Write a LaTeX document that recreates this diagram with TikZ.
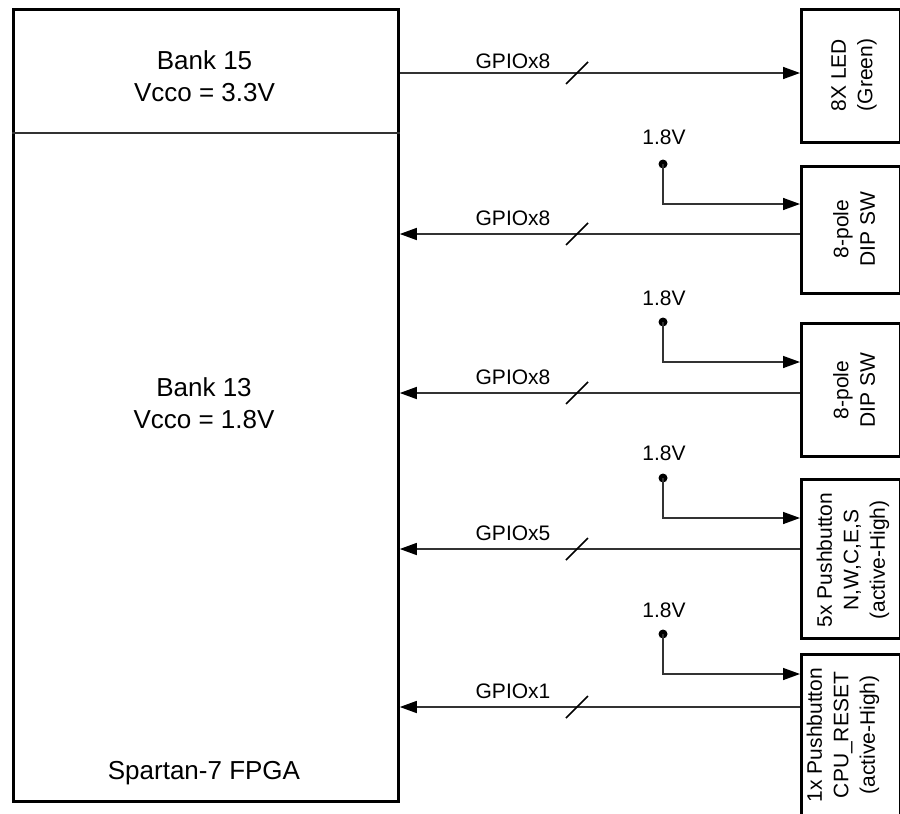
\documentclass[tikz,border=0pt]{standalone}
\usepackage{fontspec}
\setmainfont{Liberation Sans}
\usetikzlibrary{arrows.meta,calc}
\begin{document}
\begin{tikzpicture}[x=1pt,y=-1pt,
  box/.style={draw, line width=2.8pt, inner sep=0pt, anchor=north west},
  sig/.style={line width=1.5pt, draw=black!80, -{Triangle[length=17pt,width=12pt,fill=black,color=black]}},
  wire/.style={line width=1.5pt, draw=black!80},
  big/.style={font=\fontsize{26}{32}\selectfont, align=center, inner sep=0pt},
  lbl/.style={font=\fontsize{21}{26}\selectfont, inner sep=0pt},
  rot/.style={font=\fontsize{21}{26.5}\selectfont, rotate=90, align=center, inner sep=0pt},
  vdot/.style={circle, fill, inner sep=0pt, minimum size=9pt},
  slash/.style={line width=1.5pt}]
\useasboundingbox (0,0) rectangle (900,814);

% FPGA
\node[box, minimum width=385pt, minimum height=792pt] (fpga) at (12,8) {};
\coordinate (dv) at (0,133);
\draw[wire] (fpga.west |- dv) -- (fpga.east |- dv);
\node[big] (b15) at (204.5,76) {Bank 15\\Vcco = 3.3V};
\node[big] (b13) at (204,403) {Bank 13\\Vcco = 1.8V};
\node[big] (sp) at (204,773) {Spartan-7 FPGA};

% right boxes
\node[box, minimum width=99pt, minimum height=133pt] (led) at (800,8) {};
\node[box, minimum width=99pt, minimum height=127pt] (dip1) at (800,165) {};
\node[box, minimum width=99pt, minimum height=133pt] (dip2) at (800,322) {};
\node[box, minimum width=99pt, minimum height=159pt] (pb) at (800,478) {};
\node[box, minimum width=99pt, minimum height=165pt] (rst) at (800,653) {};

\node[rot] (tled) at (854,75) {8X LED\\(Green)};
\node[rot] (tdip1) at (854,229) {8-pole\\DIP SW};
\node[rot] (tdip2) at (854,390) {8-pole\\DIP SW};
\node[rot] (tpb) at (853,560) {5x Pushbutton\\N,W,C,E,S\\(active-High)};
\node[rot] (trst) at (843,735) {1x Pushbutton\\CPU\_RESET\\(active-High)};

% top LED output
\coordinate (g0) at (0,73);
\draw[sig] (fpga.east |- g0) -- (led.west |- g0);
\node[lbl] (l0) at (513,61.5) {GPIOx8};
\coordinate (s0) at (577,73);
\draw[slash] ($(s0)+(-11,11)$) -- ($(s0)+(11,-11)$);

% DIP 1
\node[lbl] (p1) at (664,137) {1.8V};
\node[vdot] (v1) at (663,164) {};
\coordinate (t1) at (0,204);
\draw[sig] (v1.center) |- (dip1.west |- t1);
\coordinate (g1) at (0,234);
\draw[sig] (dip1.west |- g1) -- (fpga.east |- g1);
\node[lbl] (l1) at (513,218) {GPIOx8};
\coordinate (s1) at (577,234);
\draw[slash] ($(s1)+(-11,11)$) -- ($(s1)+(11,-11)$);

% DIP 2
\node[lbl] (p2) at (664,298) {1.8V};
\node[vdot] (v2) at (663,322) {};
\coordinate (t2) at (0,362);
\draw[sig] (v2.center) |- (dip2.west |- t2);
\coordinate (g2) at (0,393);
\draw[sig] (dip2.west |- g2) -- (fpga.east |- g2);
\node[lbl] (l2) at (513,377) {GPIOx8};
\coordinate (s2) at (577,393);
\draw[slash] ($(s2)+(-11,11)$) -- ($(s2)+(11,-11)$);

% Pushbuttons
\node[lbl] (p3) at (664,453) {1.8V};
\node[vdot] (v3) at (663,478) {};
\coordinate (t3) at (0,518);
\draw[sig] (v3.center) |- (pb.west |- t3);
\coordinate (g3) at (0,549);
\draw[sig] (pb.west |- g3) -- (fpga.east |- g3);
\node[lbl] (l3) at (513,533) {GPIOx5};
\coordinate (s3) at (577,549);
\draw[slash] ($(s3)+(-11,11)$) -- ($(s3)+(11,-11)$);

% CPU reset
\node[lbl] (p4) at (664,610) {1.8V};
\node[vdot] (v4) at (663,634) {};
\coordinate (t4) at (0,674);
\draw[sig] (v4.center) |- (rst.west |- t4);
\coordinate (g4) at (0,707);
\draw[sig] (rst.west |- g4) -- (fpga.east |- g4);
\node[lbl] (l4) at (513,691) {GPIOx1};
\coordinate (s4) at (577,707);
\draw[slash] ($(s4)+(-11,11)$) -- ($(s4)+(11,-11)$);
\end{tikzpicture}
\end{document}
